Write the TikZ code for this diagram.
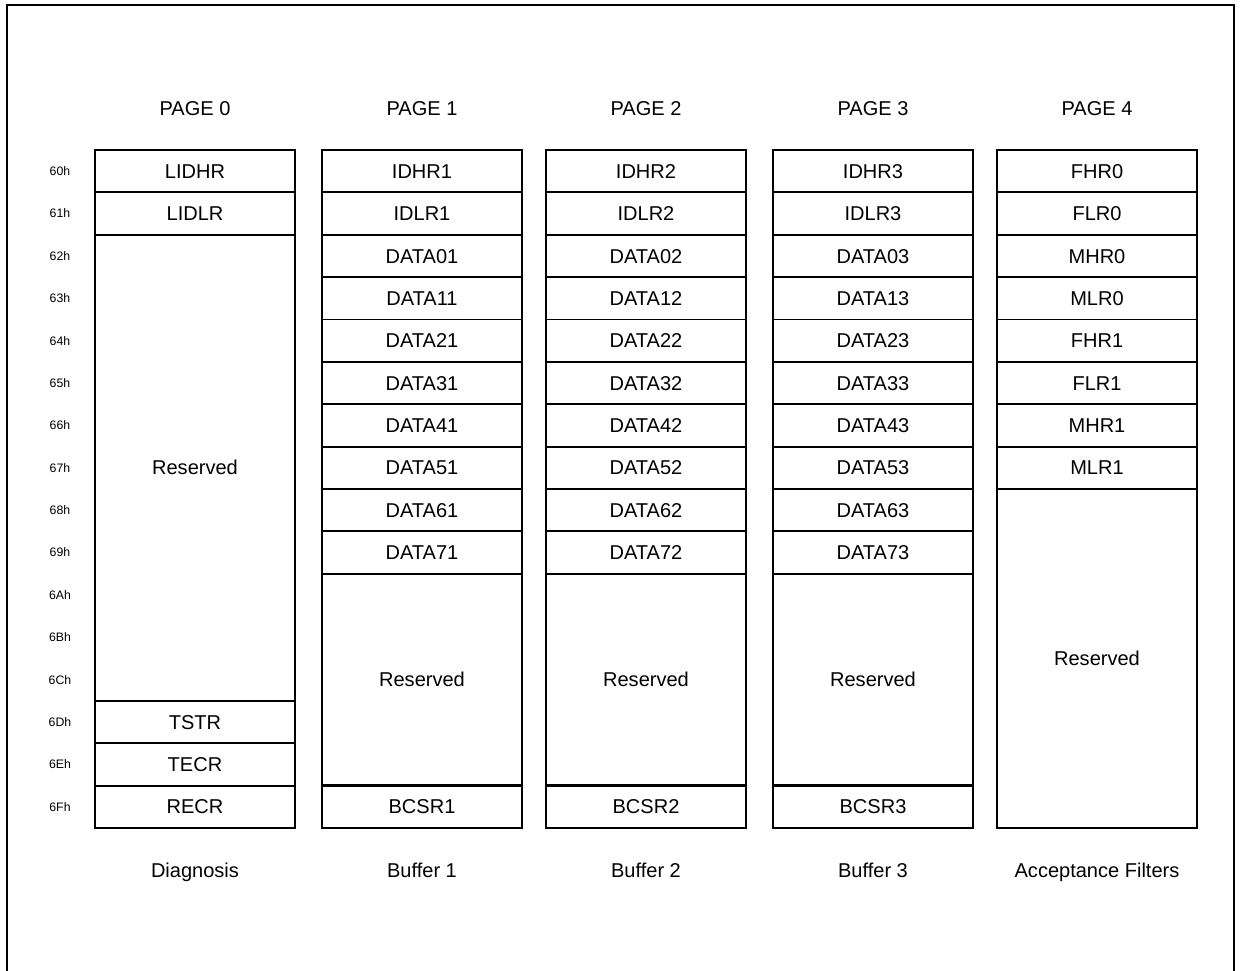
\documentclass[tikz,border=0pt]{standalone}
\usepackage{fontspec}
\setmainfont{Liberation Sans}
\begin{document}
\begin{tikzpicture}[
  x=0.02cm, y=-0.02cm,
  cell/.style={draw, line width=1.1pt, outer sep=0pt, inner sep=0pt,
    minimum width=4cm, minimum height=0.8475cm, text height=1.65ex, text depth=0.12ex,
    font=\fontsize{11.4}{13}\selectfont},
  lbl/.style={inner sep=0pt, text height=1.65ex, text depth=0.12ex, font=\fontsize{11.4}{13}\selectfont},
  addr/.style={inner sep=0pt, font=\fontsize{7}{8}\selectfont}
]
\useasboundingbox (0,0) rectangle (1242,971);
\draw[line width=1.1pt] (7,975) -- (7,5) -- (1234,5) -- (1234,975);

% addresses
\foreach \a [count=\i from 0] in {60h,61h,62h,63h,64h,65h,66h,67h,68h,69h,6Ah,6Bh,6Ch,6Dh,6Eh,6Fh}
  \node[addr] (a\i) at (60,{150+42.375*(\i+0.5)}) {\a};

% page 0
\node[lbl] (title0) at (195,108) {PAGE 0};
\node[cell] (p0r0) at (195,{150+42.375*0.5}) {LIDHR};
\node[cell] (p0r1) at (195,{150+42.375*1.5}) {LIDLR};
\node[cell, minimum height=11*0.8475cm] (p0res) at (195,{150+42.375*7.5}) {Reserved};
\node[cell] (p0r13) at (195,{150+42.375*13.5}) {TSTR};
\node[cell] (p0r14) at (195,{150+42.375*14.5}) {TECR};
\node[cell] (p0r15) at (195,{150+42.375*15.5}) {RECR};
\node[lbl] (name0) at (195,870) {Diagnosis};

% pages 1-3
\foreach \n/\x in {1/422,2/646,3/873} {
  \node[lbl] (title\n) at (\x,108) {PAGE \n};
  \node[cell] (p\n r0) at (\x,{150+42.375*0.5}) {IDHR\n};
  \node[cell] (p\n r1) at (\x,{150+42.375*1.5}) {IDLR\n};
  \foreach \d in {0,...,7}
    \node[cell] (p\n r\d d) at (\x,{150+42.375*(\d+2.5)}) {DATA\d\n};
  \node[cell, minimum height=5*0.8475cm] (p\n res) at (\x,{150+42.375*12.5}) {Reserved};
  \node[cell] (p\n r15) at (\x,{150+42.375*15.5}) {BCSR\n};
  \draw[line width=1.8pt] (p\n r15.north west) -- (p\n r15.north east);
  \node[lbl] (name\n) at (\x,870) {Buffer \n};
}

% page 4
\node[lbl] (title4) at (1097,108) {PAGE 4};
\foreach \r [count=\i from 0] in {FHR0,FLR0,MHR0,MLR0,FHR1,FLR1,MHR1,MLR1}
  \node[cell] (p4r\i) at (1097,{150+42.375*(\i+0.5)}) {\r};
\node[cell, minimum height=8*0.8475cm] (p4res) at (1097,{150+42.375*12}) {Reserved};
\node[lbl] (name4) at (1097,870) {Acceptance Filters};
\end{tikzpicture}
\end{document}
